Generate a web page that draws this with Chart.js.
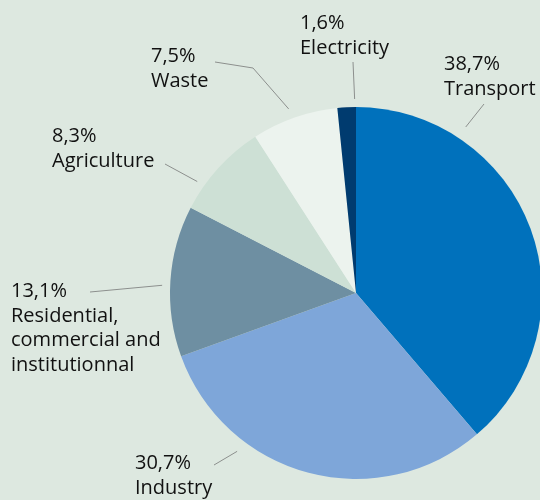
<!DOCTYPE html>
<html>
	<head>
		<title>Emissions by sector</title>
		<script src="https://cdn.jsdelivr.net/npm/chart.js@4.4.0/dist/chart.umd.min.js"></script>
		<style>
			body { margin: 0; background: #dde8e0; }
			#wrap { width: 540px; height: 500px; overflow: hidden; position: relative; }
			canvas { display: block; }
		</style>
	</head>
	<body>
		<div id="wrap">
			<canvas id="myChart" width="560" height="500"></canvas>
		</div>
		<script>
			// data
			const categories = ['Transport', 'Industry', 'Residential, commercial and institutionnal', 'Agriculture', 'Waste', 'Electricity'];
			const shares = [38.7, 30.7, 13.1, 8.3, 7.5, 1.6];
			const labelText = [['Transport'], ['Industry'], ['Residential,', 'commercial and', 'institutionnal'], ['Agriculture'], ['Waste'], ['Electricity']];
			const colors = ['#0071bc', '#7ea6d9', '#6e8fa2', '#cde0d5', '#ecf3ee', '#003b6f'];

			// where each label sits, and its leader line (f = position inside the slice, gap = distance off the edge)
			const labelLayout = [
				{ x: 444, y: 70, f: 0.24, gap: 13, pts: [[484, 104]] },
				{ x: 135, y: 469, f: 0.70, gap: 12, pts: [[214, 465]] },
				{ x: 11, y: 297, f: 0.47, gap: 8, pts: [[90, 292]] },
				{ x: 52, y: 142, f: 0.26, gap: 8, pts: [[165, 164]] },
				{ x: 151, y: 62, f: 0.47, gap: 10, pts: [[253, 68], [215, 62]] },
				{ x: 300, y: 29, f: 0.93, gap: 8, pts: [[353, 62]] }
			];

			const labelsPlugin = {
				id: 'sectorLabels',
				afterDraw(chart) {
					const ctx = chart.ctx;
					const meta = chart.getDatasetMeta(0);
					ctx.save();
					meta.data.forEach((arc, i) => {
						const p = arc.getProps(['x', 'y', 'startAngle', 'endAngle', 'outerRadius'], true);
						const l = labelLayout[i];
						const a = p.startAngle + l.f * (p.endAngle - p.startAngle);
						const r = p.outerRadius + l.gap;
						ctx.beginPath();
						ctx.moveTo(p.x + Math.cos(a) * r, p.y + Math.sin(a) * r);
						l.pts.forEach(pt => ctx.lineTo(pt[0], pt[1]));
						ctx.strokeStyle = '#8c8f8d';
						ctx.lineWidth = 1;
						ctx.stroke();

						ctx.fillStyle = '#111111';
						ctx.font = '20px "Open Sans"';
						ctx.textBaseline = 'alphabetic';
						ctx.textAlign = 'left';
						const lines = [shares[i].toFixed(1).replace('.', ',') + '%'].concat(labelText[i]);
						lines.forEach((t, k) => ctx.fillText(t, l.x, l.y + k * 24.5));
					});
					ctx.restore();
				}
			};

			var chart = new Chart(document.getElementById('myChart').getContext('2d'), {
				type: 'pie',
				data: {
					labels: categories,
					datasets: [{
						data: shares,
						backgroundColor: colors,
						borderWidth: 0
					}]
				},
				options: {
					responsive: false,
					animation: false,
					layout: { padding: { left: 170, right: 18, top: 107, bottom: 21 } },
					plugins: {
						legend: { display: false },
						tooltip: { enabled: false }
					}
				},
				plugins: [labelsPlugin]
			});
		</script>
	</body>
</html>
